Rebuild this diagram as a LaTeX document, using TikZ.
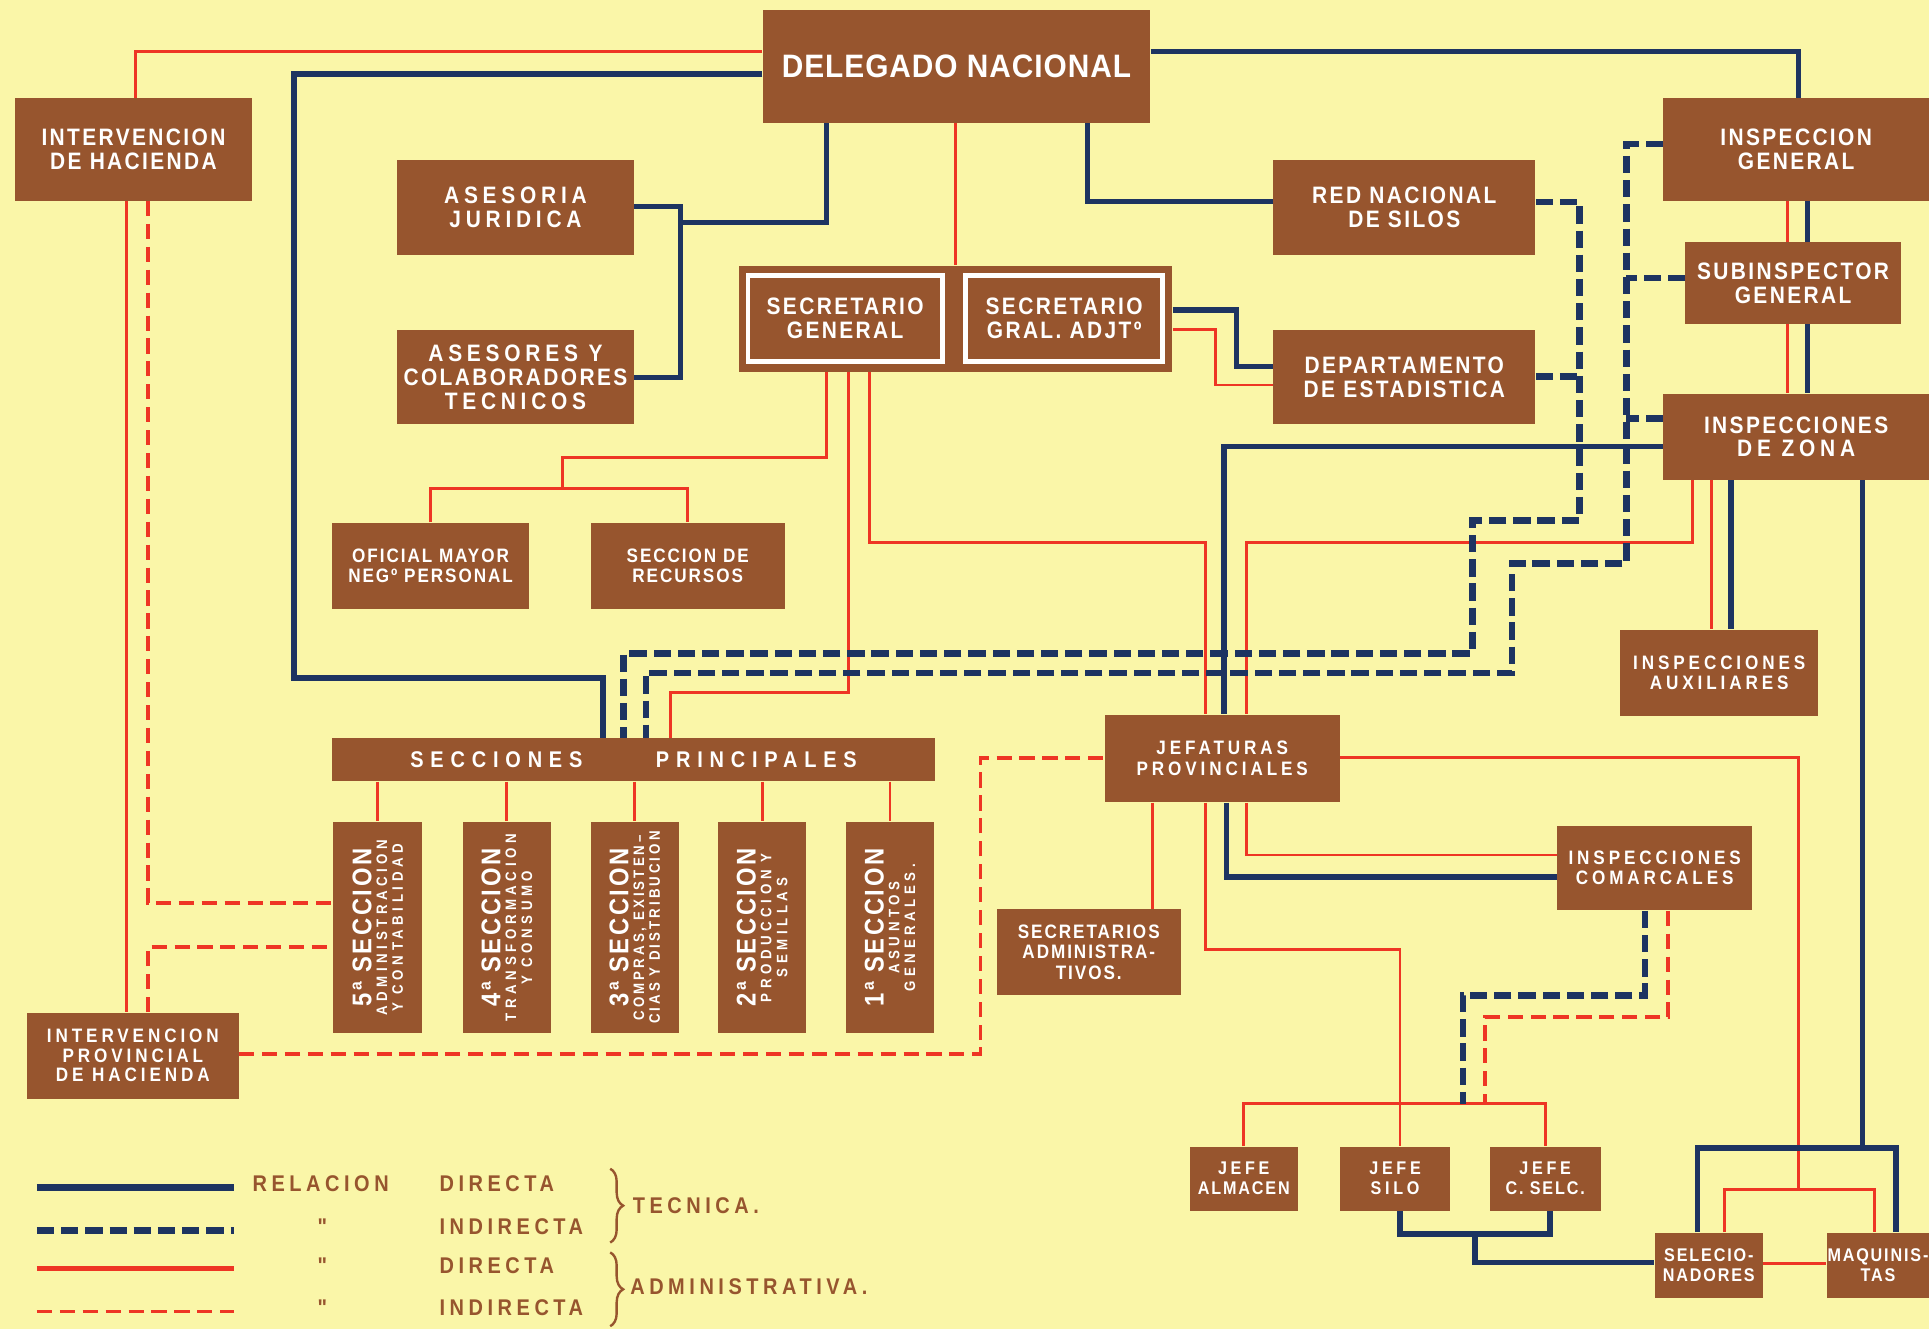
\documentclass[tikz,border=0pt]{standalone}
\usepackage{fontspec}
\setmainfont{Liberation Sans}
\newfontfamily\fdel[FakeStretch=0.92,LetterSpace=3]{Liberation Sans}
\newfontfamily\fcaja[FakeStretch=0.88,LetterSpace=10]{Liberation Sans}
\newfontfamily\fancha[FakeStretch=0.88,LetterSpace=20]{Liberation Sans}
\newfontfamily\fmuyancha[FakeStretch=0.88,LetterSpace=30]{Liberation Sans}
\usetikzlibrary{decorations.pathreplacing}
\definecolor{fondo}{HTML}{FAF6A8}
\definecolor{marr}{HTML}{97552E}
\definecolor{azul}{HTML}{1D3461}
\definecolor{rojo}{HTML}{EE3524}

\begin{document}
\begin{tikzpicture}[x=0.02cm, y=-0.02cm,
            caja/.style={fill=marr, text=white, inner sep=0pt, align=center, font={\fontsize{11}{11}\fcaja\bfseries}},
            chica/.style={caja, font={\fontsize{9}{9.5}\fcaja\bfseries}},
            jefe/.style={caja, font={\fontsize{8.5}{9.3}\fcaja\bfseries}},
            seccion/.style={caja, rotate=90, minimum width=172*0.02cm, minimum height=72*0.02cm, font={\fontsize{7}{7.3}\fmuyancha\bfseries}},
            sz/.style 2 args={minimum width=#1*0.02cm, minimum height=#2*0.02cm},
            admdir/.style={draw=rojo, line width=1.3pt},
            admind/.style={draw=rojo, line width=1.8pt, dash pattern=on 7pt off 3.6pt},
            tecdir/.style={draw=azul, line width=2.5pt},
            tecind/.style={draw=azul, line width=3pt, dash pattern=on 8pt off 3.2pt},
            leyenda/.style={text=marr, inner sep=0pt, font={\fontsize{10.5}{11}\fancha\bfseries}}]
        \fill[fondo] (0,0) rectangle (1568,1080);
        \useasboundingbox (0,0) rectangle (1568,1080);

        \node[caja, sz={315}{92}, font={\fontsize{15}{17}\fdel\bfseries}] (del) at (777.5,54) {DELEGADO NACIONAL};
        \node[caja, sz={193}{83}] (ih) at (108.5,121.5) {INTERVENCION\\DE HACIENDA};
        \node[caja, sz={192}{77}] (aj) at (419,168.5) {\fancha ASESORIA\\\fancha JURIDICA};
        \node[caja, sz={192}{77}] (act) at (419,306.5) {{\fancha ASESORES Y}\\COLABORADORES\\{\fancha TECNICOS}};
        \node[caja, sz={352}{86}] (sec) at (777,259) {};
        \node[caja, draw=white, line width=2.2pt, sz={158}{70}] (sg) at (687,259) {SECRETARIO\\GENERAL};
        \node[caja, draw=white, line width=2.2pt, sz={160}{70}] (sga) at (865,259) {SECRETARIO\\GRAL. ADJTº};
        \node[caja, sz={213}{77}] (rns) at (1141.5,168.5) {RED NACIONAL\\DE SILOS};
        \node[caja, sz={213}{77}] (dep) at (1141.5,306.5) {DEPARTAMENTO\\DE ESTADISTICA};
        \node[caja, sz={216}{83}] (ig) at (1460,121.5) {INSPECCION\\GENERAL};
        \node[caja, sz={175}{66}] (sig) at (1457.5,230) {SUBINSPECTOR\\GENERAL};
        \node[caja, sz={216}{70}] (iz) at (1460,355) {INSPECCIONES\\{\fancha DE ZONA}};
        \node[chica, sz={160}{70}] (om) at (350,460) {OFICIAL MAYOR\\NEGº PERSONAL};
        \node[chica, sz={158}{70}] (sr) at (559,460) {SECCION DE\\RECURSOS};
        \node[chica, sz={161}{70}, font={\fontsize{9}{9.5}\fancha\bfseries}] (ia) at (1397.5,547) {INSPECCIONES\\AUXILIARES};
        \node[caja, sz={490}{35}, font={\fontsize{10.5}{10.5}\fmuyancha\bfseries}] (sp) at (515,617.5) {SECCIONES\hspace{34pt}PRINCIPALES};
        \node[chica, sz={191}{71}, font={\fontsize{9}{9.5}\fancha\bfseries}] (jp) at (993.5,616.5) {JEFATURAS\\PROVINCIALES};
        \node[seccion] (s5) at (307,754) {{\fontsize{12.5}{13}\fcaja 5ª SECCION}\\ADMINISTRACION\\Y CONTABILIDAD};
        \node[seccion] (s4) at (412,754) {{\fontsize{12.5}{13}\fcaja 4ª SECCION}\\TRANSFORMACION\\Y CONSUMO};
        \node[seccion] (s3) at (516,754) {{\fontsize{12.5}{13}\fcaja 3ª SECCION}\\{\fancha COMPRAS, EXISTEN–}\\{\fancha CIAS Y DISTRIBUCION}};
        \node[seccion] (s2) at (619.5,754) {{\fontsize{12.5}{13}\fcaja 2ª SECCION}\\PRODUCCION Y\\SEMILLAS};
        \node[seccion] (s1) at (723.5,754) {{\fontsize{12.5}{13}\fcaja 1ª SECCION}\\ASUNTOS\\GENERALES.};
        \node[chica, sz={150}{70}] (sa) at (885,774) {SECRETARIOS\\ADMINISTRA-\\TIVOS.};
        \node[chica, sz={158}{69}, font={\fontsize{9}{9.5}\fancha\bfseries}] (ic) at (1345,705.5) {INSPECCIONES\\COMARCALES};
        \node[chica, sz={172}{70}, font={\fontsize{9}{9}\fancha\bfseries}] (iph) at (108,858) {INTERVENCION\\PROVINCIAL\\DE HACIENDA};
        \node[jefe, sz={88}{52}] (ja) at (1011,958) {{\fancha JEFE}\\ALMACEN};
        \node[jefe, sz={90}{52}] (js) at (1134,958) {{\fancha JEFE}\\{\fancha SILO}};
        \node[jefe, sz={90}{52}] (jc) at (1256,958) {{\fancha JEFE}\\C. SELC.};
        \node[jefe, sz={88}{53}] (sel) at (1389,1028.5) {SELECIO-\\NADORES};
        \node[jefe, sz={83}{53}] (maq) at (1526.5,1028.5) {MAQUINIS-\\TAS};

        \coordinate (bifOM) at (457,397);
        \coordinate (bifJP) at (1462,967);
        \coordinate (bifAS) at (553,181);
        \coordinate (bifIZ) at (1514,933);
        \coordinate (bifJS) at (1199,1003);
        \coordinate (barA) at (1189,897);
        \coordinate (barR) at (1207,897);
        \coordinate (bifRN) at (1284,306);
        \coordinate (bifIG) at (1322,226);
        \coordinate (bifIZd) at (1322,340);

        \draw[admdir] (del.west |- 0,42) -| (ih.north -| 110,0);
        \draw[admdir] (del.south -| 777,0) -- (sec.north -| 777,0);
        \draw[admdir] (ih.south -| 103,0) -- (iph.north -| 103,0);
        \draw[admdir] (sec.south -| 672,0) |- (457,372) -- (bifOM);
        \draw[admdir] (om.north) |- (bifOM) -| (sr.north);
        \draw[admdir] (sec.south -| 690,0) |- (545,563) -- (sp.north -| 545,0);
        \draw[admdir] (sec.south -| 707,0) |- (980,441) -- (jp.north -| 980,0);
        \draw[admdir] (iz.south -| 1376,0) |- (1013,441) -- (jp.north -| 1013,0);
        \draw[admdir] (iz.south -| 1391,0) -- (ia.north -| 1391,0);
        \draw[admdir] (ig.south -| 1453,0) -- (sig.north -| 1453,0);
        \draw[admdir] (sig.south -| 1453,0) -- (iz.north -| 1453,0);
        \draw[admdir] (sec.east |- 0,268) -| (988,313) -- (dep.west |- 0,313);
        \foreach \s in {s5,s4,s3,s2,s1}
            \draw[admdir] (sp.south -| \s.east) -- (\s.east);
        \draw[admdir] (jp.south -| 937,0) -- (sa.north -| 937,0);
        \draw[admdir] (jp.south -| 980,0) |- (1138,772) -- (js.north -| 1138,0);
        \draw[admdir] (jp.south -| 1013,0) |- (ic.west |- 0,695);
        \draw[admdir] (jp.east |- 0,616) -| (bifJP);
        \draw[admdir] (sel.north -| 1402,0) |- (bifJP) -| (maq.north -| 1524,0);
        \draw[admdir] (sel.east |- 0,1027) -- (maq.west |- 0,1027);
        \draw[admdir] (ja.north) |- (1138,897) -| (jc.north);

        \draw[admind] (ih.south -| 120,0) |- (s5.north |- 0,734);
        \draw[admind] (iph.north -| 120,0) |- (s5.north |- 0,770);
        \draw[admind] (iph.east |- 0,857) -| (797,616) -- (jp.west |- 0,616);
        \draw[admind] (ic.south -| 1356,0) |- (1207,827) -- (barR);

        \draw[tecdir] (del.east |- 0,42) -| (ig.north -| 1462,0);
        \draw[tecdir] (del.south -| 884,0) |- (rns.west |- 0,164);
        \draw[tecdir] (del.south -| 672,0) |- (bifAS);
        \draw[tecdir] (aj.east |- 0,168) -| (553,307) -- (act.east |- 0,307);
        \draw[tecdir] (del.west |- 0,60) -| (239,551) -| (sp.north -| 490,0);
        \draw[tecdir] (sec.east |- 0,252) -| (1005,298) -- (dep.west |- 0,298);
        \draw[tecdir] (ig.south -| 1469,0) -- (sig.north -| 1469,0);
        \draw[tecdir] (sig.south -| 1469,0) -- (iz.north -| 1469,0);
        \draw[tecdir] (iz.west |- 0,363) -| (jp.north -| 995,0);
        \draw[tecdir] (iz.south -| 1407,0) -- (ia.north -| 1407,0);
        \draw[tecdir] (jp.south -| 997,0) |- (ic.west |- 0,713);
        \draw[tecdir] (iz.south -| 1514,0) -- (bifIZ);
        \draw[tecdir] (sel.north -| 1380,0) |- (bifIZ) -| (maq.north -| 1541,0);
        \draw[tecdir] (js.south -| 1138,0) |- (bifJS) -| (jc.south -| 1260,0);
        \draw[tecdir] (bifJS) |- (sel.west |- 0,1026);

        \draw[tecind] (rns.east |- 0,164) -| (1284,423) -| (1197,531) -| (sp.north -| 507,0);
        \draw[tecind] (dep.east |- 0,306) -- (bifRN);
        \draw[tecind] (ig.west |- 0,117) -| (1322,458) -| (1229,547) -| (sp.north -| 525,0);
        \draw[tecind] (sig.west |- 0,226) -- (bifIG);
        \draw[tecind] (iz.west |- 0,340) -- (bifIZd);
        \draw[tecind] (ic.south -| 1337,0) |- (1189,809) -- (barA);

        \draw[tecdir, line width=3.2pt] (30,965) -- (190,965);
        \draw[tecind] (30,1000) -- (190,1000);
        \draw[admdir, line width=2pt] (30,1031) -- (190,1031);
        \draw[admind] (30,1066) -- (190,1066);
        \node[leyenda, anchor=west] (rel) at (205,962) {RELACION};
        \node[leyenda, anchor=west] (d1) at (357,962) {DIRECTA};
        \node[leyenda] (c1) at (262,997) {"};
        \node[leyenda, anchor=west] (i1) at (357,997) {INDIRECTA};
        \node[leyenda] (c2) at (262,1029) {"};
        \node[leyenda, anchor=west] (d2) at (357,1029) {DIRECTA};
        \node[leyenda] (c3) at (262,1063) {"};
        \node[leyenda, anchor=west] (i2) at (357,1063) {INDIRECTA};
        \draw[marr, line width=1.1pt, decorate, decoration={brace, amplitude=6pt}] (496,950) -- (496,1010);
        \draw[marr, line width=1.1pt, decorate, decoration={brace, amplitude=6pt}] (496,1018) -- (496,1078);
        \node[leyenda, anchor=west] (tec) at (514,980) {TECNICA.};
        \node[leyenda, anchor=west] (adm) at (512,1046) {ADMINISTRATIVA.};
    \end{tikzpicture}
\end{document}
